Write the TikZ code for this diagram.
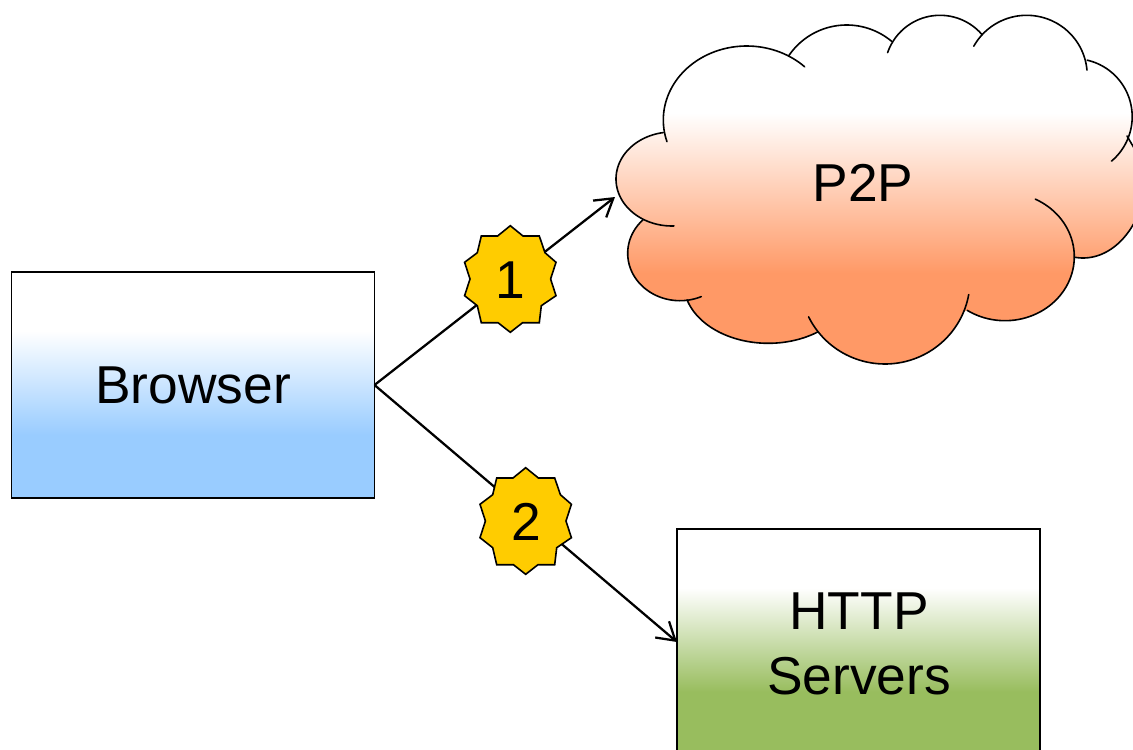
\documentclass[tikz,border=0pt]{standalone}
\usepackage{fontspec}
\setmainfont{Liberation Sans}
\usetikzlibrary{arrows.meta}
\definecolor{bluec}{HTML}{99CCFF}
\definecolor{greenc}{HTML}{98BD5E}
\definecolor{orangec}{HTML}{FF9966}
\definecolor{yellowc}{HTML}{FFCC00}
\pgfdeclareverticalshading{blueshade}{100bp}{color(0bp)=(bluec); color(39bp)=(bluec); color(62bp)=(white); color(100bp)=(white)}
\pgfdeclareverticalshading{greenshade}{100bp}{color(0bp)=(greenc); color(39bp)=(greenc); color(62bp)=(white); color(100bp)=(white)}
\pgfdeclareverticalshading{orangeshade}{100bp}{color(0bp)=(orangec); color(38bp)=(orangec); color(61bp)=(white); color(100bp)=(white)}
\tikzset{
  label font/.style={font=\fontsize{40}{48.75}\selectfont, text=black},
  boxnode/.style={draw=black, line width=1.2pt, minimum width=272.25pt, minimum height=169.5pt, inner sep=0pt, outer sep=0pt, align=center, label font},
  link/.style={draw=black, line width=1.7pt, -{Straight Barb[length=13pt,width=16pt]}},
  cloudline/.style={draw=black, line width=1.2pt, line cap=round},
  badgeshape/.style={draw=black, line width=1.2pt, fill=yellowc, line join=miter},
  badgetext/.style={inner sep=0pt, label font},
}
\newcommand{\badgepoly}{(0,-53.3) -- (12.7,-43) -- (29,-43) -- (34.7,-26.3) -- (45.7,-16.7) -- (40.3,0) -- (45.7,16.7) -- (31,26.7) -- (29,43.7) -- (12.3,43.7) -- (0,53.3) -- (-12.3,43.7) -- (-29,43.7) -- (-33,26.7) -- (-45.7,16.7) -- (-40.3,0) -- (-45.7,-16.7) -- (-33,-26.3) -- (-29,-43) -- (-12.7,-43) -- cycle}
% elliptical cloud arc: centre x, radius x, centre y, radius y, start angle, end angle
\newcommand{\ca}[6]{plot[domain=#5:#6,samples=60,variable=\t] ({#1+#2*cos(\t)},{#3-#4*sin(\t)})}
\newcommand{\cb}[6]{-- plot[domain=#5:#6,samples=60,variable=\t] ({#1+#2*cos(\t)},{#3-#4*sin(\t)})}
\begin{document}
\begin{tikzpicture}[x=0.75pt,y=-0.75pt]
\useasboundingbox (0,0) rectangle (1133,750);
\clip (0,0) rectangle (1133,750);
% cloud fill
\shade[shading=orangeshade]
  \ca{746.7}{83.4}{120}{74}{189}{60}
  \cb{846.7}{70}{95}{70}{146}{50}
  \cb{940}{55.4}{70.7}{55.4}{149}{41}
  \cb{1026.7}{60.5}{75.3}{60}{137}{14}
  \cb{1074.2}{58}{116.7}{58}{77}{-21}
  -- (1147,170)
  \cb{1083}{64}{170}{88}{0}{-97}
  \cb{1005}{69.3}{256.7}{64}{0}{-123}
  \cb{885}{85}{280}{84}{-22}{-142}
  \cb{768.3}{84.5}{283.3}{60}{-54}{-164}
  \cb{680}{52.3}{253.3}{47.4}{-82}{-225}
  \cb{672}{56}{179}{47}{-120}{-261}
  -- cycle;
% cloud outline
\draw[cloudline] \ca{746.7}{83.4}{120}{74}{197}{46};
\draw[cloudline] \ca{846.7}{70}{95}{70}{146}{50};
\draw[cloudline] \ca{940}{55.4}{70.7}{55.4}{161}{41};
\draw[cloudline] \ca{1026.7}{60.5}{75.3}{60}{151}{5};
\draw[cloudline] \ca{1074.2}{58}{116.7}{58}{77}{-50};
\draw[cloudline] (1127,136) -- (1147,170) \cb{1083}{64}{170}{88}{0}{-97};
\draw[cloudline] \ca{1005}{69.3}{256.7}{64}{64}{-123};
\draw[cloudline] \ca{885}{85}{280}{84}{-10}{-154};
\draw[cloudline] \ca{768.3}{84.5}{283.3}{60}{-54}{-164};
\draw[cloudline] \ca{680}{52.3}{253.3}{47.4}{-66}{-225};
\draw[cloudline] \ca{672}{56}{179}{47}{-88}{-261};
\node[label font, inner sep=0pt] (p2p) at (863,183) {P2P};
\coordinate (cloudin) at (615,197);
% boxes
\node[boxnode, shade, shading=blueshade] (browser) at (193,385) {\raisebox{-1.5pt}{Browser}};
\node[boxnode, shade, shading=greenshade] (http) at (858.5,642) {};
\node[label font, align=center, inner sep=0pt] (httptext) at (859,644) {HTTP\\Servers};
% connectors
\draw[link] (browser.east) -- (cloudin);
\draw[link] (browser.east) -- (http.west);
% badges
\draw[badgeshape, shift={(510.3,279)}] \badgepoly;
\node[badgetext] (badge1) at (510.3,280) {1};
\draw[badgeshape, shift={(525.7,521)}] \badgepoly;
\node[badgetext] (badge2) at (526.2,522) {2};
\end{tikzpicture}
\end{document}
